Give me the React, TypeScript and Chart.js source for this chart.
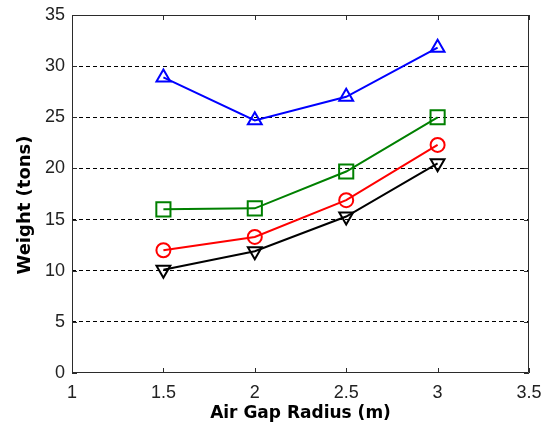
import React, { useEffect, useRef } from "react";
import { Chart, registerables } from "chart.js";

Chart.register(...registerables);

const radii = [1.5, 2, 2.5, 3];
const blueTriangle = [28.9, 24.7, 27.0, 31.8];
const greenSquare = [16.0, 16.1, 19.7, 25.0];
const redCircle = [12.0, 13.3, 16.9, 22.3];
const blackTriangleDown = [10.1, 11.9, 15.3, 20.5];

const xTitle = "Air Gap Radius (m)";
const yTitle = "Weight (tons)";

const toPoints = (ys: number[]) => radii.map((x, i) => ({ x, y: ys[i] }));

const tickFont = { family: "Liberation Sans, Arial, sans-serif", size: 18 };
const titleFamily = "DejaVu Sans, sans-serif";

const boxPlugin = {
  id: "matlabBox",
  afterDatasetsDraw(chart: any) {
    const { ctx, chartArea } = chart;
    const { left, right, top, bottom } = chartArea;
    ctx.save();
    ctx.strokeStyle = "#2b2b2b";
    ctx.lineWidth = 1;
    ctx.beginPath();
    ctx.rect(left + 0.5, top + 0.5, right - left - 1, bottom - top - 1);
    ctx.stroke();
    const tl = 5;
    const xs = chart.scales.x;
    ctx.beginPath();
    xs.ticks.forEach((t: any) => {
      const px = Math.round(xs.getPixelForValue(t.value)) + 0.5;
      ctx.moveTo(px, bottom);
      ctx.lineTo(px, bottom - tl);
      ctx.moveTo(px, top);
      ctx.lineTo(px, top + tl);
    });
    const ys = chart.scales.y;
    ys.ticks.forEach((t: any) => {
      const py = Math.round(ys.getPixelForValue(t.value)) + 0.5;
      ctx.moveTo(left, py);
      ctx.lineTo(left + tl, py);
      ctx.moveTo(right, py);
      ctx.lineTo(right - tl, py);
    });
    ctx.stroke();
    // y axis title
    const cy = (top + bottom) / 2 + 11;
    ctx.translate(25, cy);
    ctx.rotate(-Math.PI / 2);
    ctx.fillStyle = "#000";
    ctx.font = `bold 18px ${titleFamily}`;
    ctx.textAlign = "center";
    ctx.textBaseline = "middle";
    ctx.fillText(yTitle, 0, 0);
    ctx.restore();
  },
};

export default function App() {
  const ref = useRef<HTMLCanvasElement>(null);
  useEffect(() => {
    document.body.style.margin = "0";
    const canvas = ref.current!;
    const mk = (label: string, data: number[], color: string, style: any, radius: number, rotation = 0) => ({
      label,
      data: toPoints(data),
      borderColor: color,
      backgroundColor: "rgba(0,0,0,0)",
      borderWidth: 2,
      pointStyle: style,
      pointRadius: radius,
      pointRotation: rotation,
      pointBorderWidth: 2,
      pointBorderColor: color,
      pointBackgroundColor: "rgba(0,0,0,0)",
      showLine: true,
      tension: 0,
    });
    const chart = new Chart(canvas, {
      type: "scatter",
      data: {
        datasets: [
          mk("A", blueTriangle, "#0000ff", "triangle", 8),
          mk("B", greenSquare, "#008000", "rect", 10),
          mk("C", redCircle, "#ff0000", "circle", 7),
          mk("D", blackTriangleDown, "#000000", "triangle", 8, 180),
        ],
      },
      options: {
        animation: false,
        responsive: false,
        layout: { padding: { left: 0, right: 14, top: 15, bottom: 0 } },
        plugins: { legend: { display: false }, tooltip: { enabled: false } },
        scales: {
          x: {
            type: "linear",
            min: 1,
            max: 3.5,
            ticks: {
              stepSize: 0.5,
              color: "#222",
              font: tickFont,
              padding: 9,
              maxRotation: 0,
              callback: (v: any) => String(v),
            },
            grid: { display: false, drawTicks: false },
            border: { display: false },
            title: {
              display: true,
              text: xTitle,
              color: "#000",
              font: { family: titleFamily, size: 17, weight: "bold" },
              padding: { top: 0, bottom: 2 },
            },
            afterFit: (s: any) => {
              s.height = 53;
              s.paddingLeft = 0;
              s.paddingRight = 0;
            },
          },
          y: {
            type: "linear",
            min: 0,
            max: 35,
            ticks: {
              stepSize: 5,
              color: "#222",
              font: tickFont,
              padding: 7,
            },
            grid: {
              drawTicks: false,
              color: (c: any) => (c.tick && (c.tick.value === 0 || c.tick.value === 35) ? "rgba(0,0,0,0)" : "#000"),
              lineWidth: 1,
            },
            border: { display: false, dash: [4, 3] },
            afterFit: (s: any) => {
              s.width = 72;
              s.paddingTop = 0;
              s.paddingBottom = 0;
            },
          },
        },
      } as any,
      plugins: [boxPlugin],
    });
    return () => chart.destroy();
  }, []);
  return <canvas ref={ref} width={543} height={426} style={{ display: "block" }} />;
}
